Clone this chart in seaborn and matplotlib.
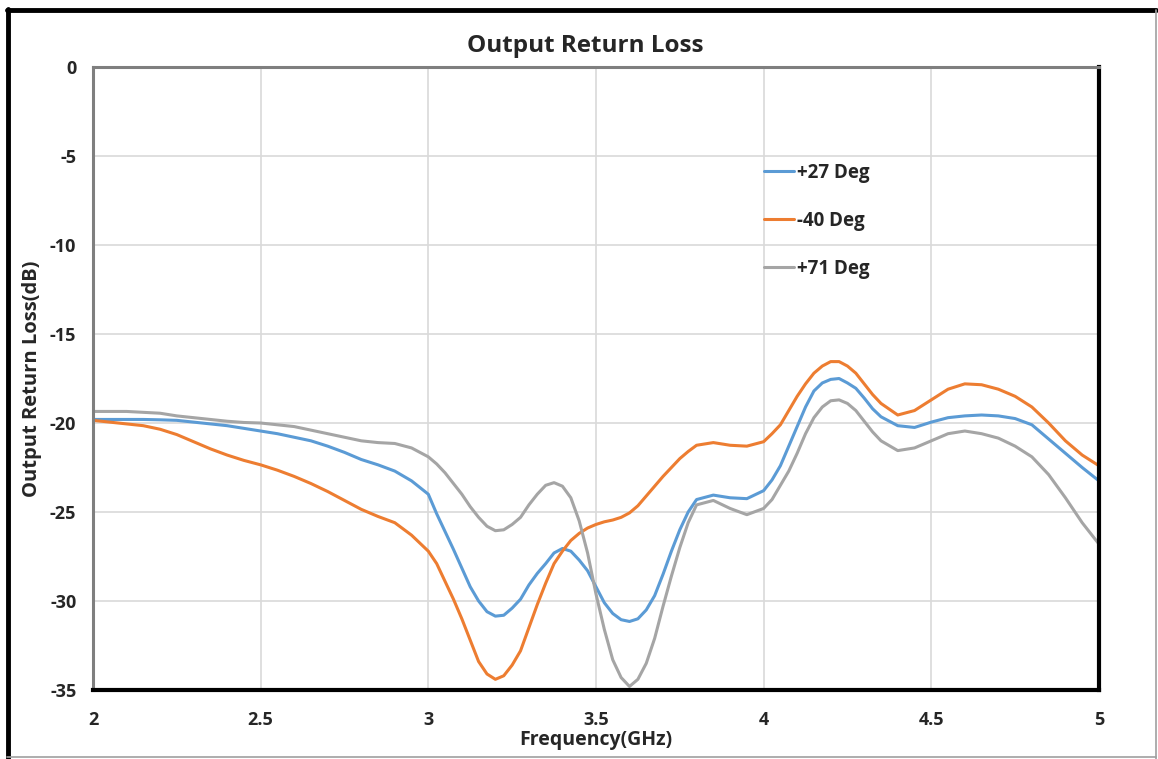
import numpy as np
import pandas as pd
import matplotlib
matplotlib.use("Agg")
import matplotlib.pyplot as plt
import seaborn as sns
from matplotlib.lines import Line2D

sns.set_style("white")
plt.rcParams["font.family"] = ["Open Sans", "DejaVu Sans"]
plt.rcParams["axes.unicode_minus"] = False

# frequency points (GHz): 0.05 steps, 0.025 steps around the sharp features
freq = ([2.00, 2.05, 2.10, 2.15, 2.20, 2.25, 2.30, 2.35, 2.40, 2.45,
         2.50, 2.55, 2.60, 2.65, 2.70, 2.75, 2.80, 2.85, 2.90, 2.95]
        + [3.00, 3.025, 3.05, 3.075, 3.10, 3.125, 3.15, 3.175, 3.20, 3.225,
           3.25, 3.275, 3.30, 3.325, 3.35, 3.375, 3.40, 3.425, 3.45, 3.475,
           3.50, 3.525, 3.55, 3.575, 3.60, 3.625, 3.65, 3.675, 3.70, 3.725,
           3.75, 3.775, 3.80]
        + [3.85, 3.90, 3.95]
        + [4.00, 4.025, 4.05, 4.075, 4.10, 4.125, 4.15, 4.175, 4.20, 4.225,
           4.25, 4.275, 4.30, 4.325, 4.35]
        + [4.40, 4.45, 4.50, 4.55, 4.60, 4.65, 4.70, 4.75, 4.80, 4.85,
           4.90, 4.95, 5.00])

# values (dB)
plus27 = ([-19.8, -19.8, -19.8, -19.8, -19.82, -19.85, -19.95, -20.05, -20.15, -20.3,
           -20.45, -20.6, -20.8, -21.0, -21.3, -21.65, -22.05, -22.35, -22.7, -23.25]
          + [-24.0, -25.1, -26.1, -27.1, -28.15, -29.2, -30.0, -30.6, -30.85, -30.8,
             -30.4, -29.9, -29.1, -28.45, -27.9, -27.3, -27.05, -27.2, -27.7, -28.3,
             -29.2, -30.1, -30.7, -31.05, -31.15, -31.0, -30.5, -29.7, -28.5, -27.2,
             -26.0, -25.0, -24.3]
          + [-24.05, -24.2, -24.25]
          + [-23.8, -23.2, -22.4, -21.3, -20.2, -19.1, -18.2, -17.75, -17.55, -17.5,
             -17.75, -18.05, -18.6, -19.2, -19.65]
          + [-20.15, -20.25, -19.95, -19.7, -19.6, -19.55, -19.6, -19.75, -20.1, -20.9,
             -21.7, -22.5, -23.25])
minus40 = ([-19.85, -19.95, -20.05, -20.15, -20.35, -20.65, -21.05, -21.45, -21.8, -22.1,
            -22.35, -22.65, -23.0, -23.4, -23.85, -24.35, -24.85, -25.25, -25.6, -26.3]
           + [-27.2, -27.9, -28.9, -29.9, -31.0, -32.2, -33.4, -34.1, -34.4, -34.2,
              -33.6, -32.8, -31.5, -30.2, -29.0, -27.9, -27.2, -26.6, -26.2, -25.9,
              -25.7, -25.55, -25.45, -25.3, -25.05, -24.65, -24.1, -23.55, -23.0, -22.5,
              -22.0, -21.6, -21.25]
           + [-21.1, -21.25, -21.3]
           + [-21.05, -20.6, -20.1, -19.3, -18.5, -17.8, -17.2, -16.8, -16.55, -16.55,
              -16.8, -17.2, -17.8, -18.4, -18.9]
           + [-19.55, -19.3, -18.7, -18.1, -17.8, -17.85, -18.1, -18.5, -19.1, -20.0,
              -21.0, -21.8, -22.4])
plus71 = ([-19.35, -19.35, -19.35, -19.4, -19.45, -19.6, -19.7, -19.8, -19.9, -19.97,
           -20.0, -20.1, -20.2, -20.4, -20.6, -20.8, -21.0, -21.1, -21.15, -21.4]
          + [-21.9, -22.3, -22.8, -23.4, -24.0, -24.7, -25.3, -25.8, -26.05, -26.0,
             -25.7, -25.3, -24.6, -24.0, -23.5, -23.35, -23.55, -24.2, -25.5, -27.3,
             -29.6, -31.6, -33.3, -34.3, -34.8, -34.4, -33.5, -32.1, -30.3, -28.6,
             -27.0, -25.6, -24.6]
          + [-24.35, -24.8, -25.15]
          + [-24.8, -24.3, -23.5, -22.7, -21.7, -20.6, -19.7, -19.1, -18.75, -18.7,
             -18.9, -19.3, -19.9, -20.5, -21.0]
          + [-21.55, -21.4, -21.0, -20.6, -20.45, -20.6, -20.85, -21.3, -21.9, -22.9,
             -24.2, -25.6, -26.8])

series_names = ["+27 Deg", "-40 Deg", "+71 Deg"]
colors = ["#5B9BD5", "#ED7D31", "#A5A5A5"]

df = pd.concat([
    pd.DataFrame({"freq": freq, "loss": vals, "temp": name})
    for name, vals in zip(series_names, [plus27, minus40, plus71])
])

fig = plt.figure(figsize=(11.58, 7.59), dpi=100)
ax = fig.add_axes([0.0803, 0.0909, 0.8687, 0.8208])

sns.lineplot(data=df, x="freq", y="loss", hue="temp", hue_order=series_names,
             palette=colors, linewidth=2.2, ax=ax)
for ln in ax.get_lines():
    ln.set_solid_joinstyle("round")

ax.set_xlim(2, 5)
ax.set_ylim(-35, 0)
ax.set_xticks([2, 2.5, 3, 3.5, 4, 4.5, 5])
ax.set_xticklabels(["2", "2.5", "3", "3.5", "4", "4.5", "5"])
ax.set_yticks(range(-35, 1, 5))
ax.grid(True, color="#d9d9d9", linewidth=1.2)
ax.tick_params(length=0, labelsize=13)
ax.tick_params(axis="x", pad=15)
ax.tick_params(axis="y", pad=12)
for lab in ax.get_xticklabels() + ax.get_yticklabels():
    lab.set_fontweight("bold")

# spines: grey top/left, heavy black right/bottom
for side in ["left", "top"]:
    ax.spines[side].set_color("#7f7f7f")
    ax.spines[side].set_linewidth(2.2)
for side in ["right", "bottom"]:
    ax.spines[side].set_color("black")
    ax.spines[side].set_linewidth(3)

ax.set_title("Output Return Loss", fontsize=17.5, fontweight="bold", pad=11, x=0.489)
ax.set_xlabel("Frequency(GHz)", fontsize=14, fontweight="bold", labelpad=1)
ax.set_ylabel("Output Return Loss(dB)", fontsize=14.5, fontweight="bold", labelpad=6)

leg = ax.legend(loc="upper left", bbox_to_anchor=(0.65, 0.8734), frameon=False,
                fontsize=13.5, handlelength=1.6, handletextpad=0.15, labelspacing=1.5)
for t in leg.get_texts():
    t.set_fontweight("bold")

# outer frame of the picture
fig.add_artist(Line2D([0.006, 0.9985], [0.987, 0.987], color="black", lw=3.5))
fig.add_artist(Line2D([0.007, 0.007], [0.0, 0.988], color="black", lw=3.5))
fig.add_artist(Line2D([0.9985, 0.9985], [0.0, 0.987], color="#a0a0a0", lw=1.2))
fig.add_artist(Line2D([0.006, 0.9985], [0.003, 0.003], color="#a0a0a0", lw=1.2))

fig.savefig("out.png", dpi=100)
